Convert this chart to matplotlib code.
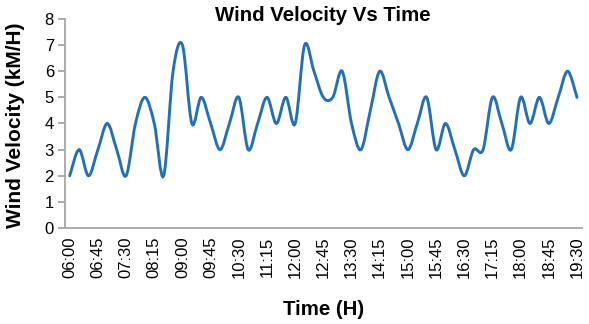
#============================================================
# PLOT.PY  -- wind velocity over one day, 15 minute samples
#============================================================

import matplotlib
matplotlib.use('Agg')
import matplotlib.pyplot as plt
from matplotlib.path import Path
from matplotlib.patches import PathPatch

#------------------------------------------------------------
times = ['%02d:%02d' % divmod(6*60 + 15*k, 60) for k in range(55)]

speed = [2, 3, 2, 3, 4, 3, 2, 4, 5, 4,
         2, 6, 7, 4, 5, 4, 3, 4, 5, 3,
         4, 5, 4, 5, 4, 7, 6, 5, 5, 6,
         4, 3, 4.5, 6, 5, 4, 3, 4, 5, 3,
         4, 3, 2, 3, 3, 5, 4, 3, 5, 4,
         5, 4, 5, 6, 5]

yticks = [0, 1, 2, 3, 4, 5, 6, 7, 8]
label_step = 3

#------------------------------------------------------------
def smooth_path(xs, ys):
    # cubic bezier through every point (catmull-rom tangents)
    n = len(xs)
    pts = list(zip(xs, ys))
    verts = [pts[0]]
    codes = [Path.MOVETO]
    for i in range(n - 1):
        p0 = pts[max(i - 1, 0)]
        p1 = pts[i]
        p2 = pts[i + 1]
        p3 = pts[min(i + 2, n - 1)]
        c1 = (p1[0] + (p2[0] - p0[0])/6, p1[1] + (p2[1] - p0[1])/6)
        c2 = (p2[0] - (p3[0] - p1[0])/6, p2[1] - (p3[1] - p1[1])/6)
        verts += [c1, c2, p2]
        codes += [Path.CURVE4]*3
    return Path(verts, codes)

#------------------------------------------------------------
plt.rcParams['font.family'] = ['Liberation Sans', 'DejaVu Sans']

fig = plt.figure(figsize=(5.89, 3.24), dpi=100)
ax = fig.add_axes([0.1104, 0.2963, 0.8772, 0.6451])

xs = list(range(len(speed)))
ax.add_patch(PathPatch(smooth_path(xs, speed), facecolor='none',
                       edgecolor='#2370b8', lw=2.1, capstyle='round'))

ax.set_xlim(-0.5, len(speed) - 0.5)
ax.set_ylim(0, 8)
ax.set_yticks(yticks)
ax.set_xticks(xs[::label_step])
ax.set_xticklabels(times[::label_step], rotation=90)

for s in ['top', 'right']:
    ax.spines[s].set_visible(False)
for s in ['left', 'bottom']:
    ax.spines[s].set_color('#a6a6a6')
    ax.spines[s].set_linewidth(1.3)

ax.tick_params(axis='y', length=5, width=1.3, color='#a6a6a6',
               labelsize=12, pad=3)
ax.tick_params(axis='x', length=0, labelsize=12, pad=6)

fig.text(0.5487, 0.935, 'Wind Velocity Vs Time', fontsize=14.7,
         fontweight='bold', ha='center', va='baseline')
ax.set_xlabel('Time (H)', fontsize=14.7, fontweight='bold')
ax.set_ylabel('Wind Velocity (kM/H)', fontsize=15, fontweight='bold')
ax.xaxis.set_label_coords(0.5, -0.345)
ax.yaxis.set_label_coords(-0.078, 0.49)

fig.savefig('out.png', dpi=100)

#------------------------------------------------------------
#        END OF FILE : PLOT.PY
#============================================================
